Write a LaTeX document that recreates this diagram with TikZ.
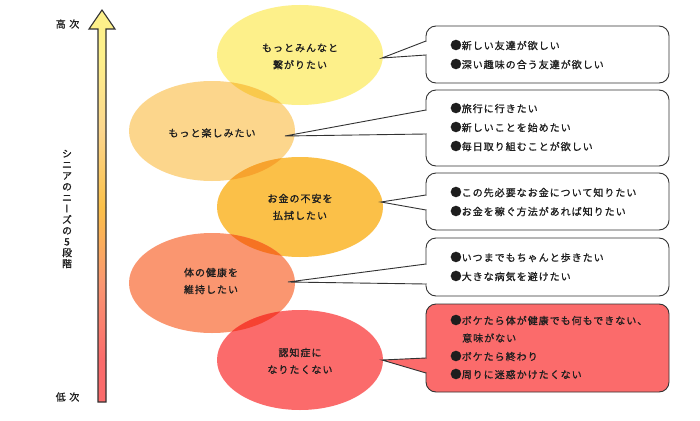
\documentclass[tikz,border=0pt]{standalone}
\usepackage{fontspec}
\newfontfamily\jp{Noto Sans CJK JP}[LetterSpace=10,FakeBold=1.1]
\newfontfamily\jpv{Noto Sans CJK JP}[RawFeature=+vert,FakeBold=1.1]
\definecolor{cA}{RGB}{253,240,138}
\definecolor{cB}{RGB}{252,214,140}
\definecolor{cC}{RGB}{251,192,72}
\definecolor{cD}{RGB}{250,150,112}
\definecolor{cE}{RGB}{251,107,107}
\definecolor{oAB}{RGB}{249,201,76}
\definecolor{oBC}{RGB}{247,163,46}
\definecolor{oCD}{RGB}{246,115,34}
\definecolor{oDE}{RGB}{246,66,50}
\definecolor{tcol}{RGB}{30,30,30}
\definecolor{lcol}{RGB}{50,50,50}
\newcommand\bul{{\fontsize{11.5}{12}\selectfont ●}}
\tikzset{
  bubble/.style={draw=lcol, line width=0.9pt, rounded corners=10pt, fill=white, minimum width=243pt, inner sep=0pt},
  txt/.style={font=\jp\fontsize{10}{12}\selectfont, text=tcol, inner sep=0pt, anchor=west},
  elab/.style={font=\jp\fontsize{10}{17}\selectfont, text=tcol, inner sep=0pt, align=center},
  ptr/.style={draw=lcol, line width=0.9pt, line join=miter},
}
\begin{document}
\begin{tikzpicture}[x=1pt,y=-1pt]
\useasboundingbox (0,0) rectangle (700,420);
\fill[white] (0,0) rectangle (700,420);

% ---- arrow ----
\begin{scope}
  \clip (102,10) -- (115,29) -- (106,29) -- (106,402) -- (98,402) -- (98,29) -- (89,29) -- cycle;
  \fill[cA] (80,0) rectangle (120,55.5);
  \shade[top color=cA, bottom color=cB] (80,55) rectangle (120,131.5);
  \shade[top color=cB, bottom color=cC] (80,131) rectangle (120,207.5);
  \shade[top color=cC, bottom color=cD] (80,207) rectangle (120,283.5);
  \shade[top color=cD, bottom color=cE] (80,283) rectangle (120,360.5);
  \fill[cE] (80,360) rectangle (120,410);
\end{scope}
\draw[lcol, line width=1.1pt, line join=miter] (102,10) -- (115,29) -- (106,29) -- (106,402) -- (98,402) -- (98,29) -- (89,29) -- cycle;

\node[font=\jp\fontsize{10}{12}\selectfont, text=tcol, inner sep=0pt] (hi) at (67.5,24) {高\hspace{3.5pt}次};
\node[font=\jp\fontsize{10}{12}\selectfont, text=tcol, inner sep=0pt] (lo) at (67.5,397) {低\hspace{3.5pt}次};
\node[font=\jpv\fontsize{10}{11}\selectfont, text=tcol, inner sep=0pt, align=center] (vt) at (67,209)
  {シ\\ニ\\ア\\の\\ニ\\ー\\ズ\\の\\5\\段\\階};

% ---- ellipses ----
\coordinate (eA) at (300,55);
\coordinate (eB) at (212,131);
\coordinate (eC) at (300,207);
\coordinate (eD) at (212,283);
\coordinate (eE) at (300,360);
\fill[cA] (eA) ellipse [x radius=83pt, y radius=50pt];
\fill[cB] (eB) ellipse [x radius=83pt, y radius=50pt];
\fill[cC] (eC) ellipse [x radius=83pt, y radius=50pt];
\fill[cD] (eD) ellipse [x radius=83pt, y radius=50pt];
\fill[cE] (eE) ellipse [x radius=83pt, y radius=50pt];
\begin{scope}
  \clip (eA) ellipse [x radius=83pt, y radius=50pt];
  \fill[oAB] (eB) ellipse [x radius=83pt, y radius=50pt];
\end{scope}
\begin{scope}
  \clip (eB) ellipse [x radius=83pt, y radius=50pt];
  \fill[oBC] (eC) ellipse [x radius=83pt, y radius=50pt];
\end{scope}
\begin{scope}
  \clip (eC) ellipse [x radius=83pt, y radius=50pt];
  \fill[oCD] (eD) ellipse [x radius=83pt, y radius=50pt];
\end{scope}
\begin{scope}
  \clip (eD) ellipse [x radius=83pt, y radius=50pt];
  \fill[oDE] (eE) ellipse [x radius=83pt, y radius=50pt];
\end{scope}

\node[elab] (nA) at (300,56.5) {もっとみんなと\\繋がりたい};
\node[elab] (nB) at (212,133) {もっと楽しみたい};
\node[elab] (nC) at (300,207) {お金の不安を\\払拭したい};
\node[elab] (nD) at (211,281) {体の健康を\\維持したい};
\node[elab] (nE) at (300,361) {認知症に\\なりたくない};

% ---- callouts ----
\node[bubble, minimum height=57pt] (b1) at (547.5,54.5) {};
\node[bubble, minimum height=76pt] (b2) at (547.5,128) {};
\node[bubble, minimum height=57pt] (b3) at (547.5,201.5) {};
\node[bubble, minimum height=58pt] (b4) at (547.5,267) {};
\node[bubble, minimum height=88pt, fill=cE] (b5) at (547.5,348) {};

\coordinate (t1) at (382,58);  \coordinate (p1a) at (426,41);  \coordinate (p1b) at (426,55);
\coordinate (t2) at (285,136); \coordinate (p2a) at (426,110); \coordinate (p2b) at (426,134);
\coordinate (t3) at (381,202); \coordinate (p3a) at (426,195); \coordinate (p3b) at (426,210);
\coordinate (t4) at (288,282); \coordinate (p4a) at (426,264); \coordinate (p4b) at (426,284);
\coordinate (t5) at (382,360); \coordinate (p5a) at (426,358); \coordinate (p5b) at (426,373);

\fill[white] (p1a) -- (t1) -- (p1b) -- cycle; \fill[white] (425,41.6) rectangle (427,54.4);
\fill[white] (p2a) -- (t2) -- (p2b) -- cycle; \fill[white] (425,110.6) rectangle (427,133.4);
\fill[white] (p3a) -- (t3) -- (p3b) -- cycle; \fill[white] (425,195.6) rectangle (427,209.4);
\fill[white] (p4a) -- (t4) -- (p4b) -- cycle; \fill[white] (425,264.6) rectangle (427,283.4);
\fill[cE] (p5a) -- (t5) -- (p5b) -- cycle; \fill[cE] (425,358.6) rectangle (427,372.4);
\draw[ptr] (p1a) -- (t1) -- (p1b);
\draw[ptr] (p2a) -- (t2) -- (p2b);
\draw[ptr] (p3a) -- (t3) -- (p3b);
\draw[ptr] (p4a) -- (t4) -- (p4b);
\draw[ptr] (p5a) -- (t5) -- (p5b);

% ---- callout texts ----
\node[txt] (l11) at (450,45) {\bul 新しい友達が欲しい};
\node[txt] (l12) at (450,64) {\bul 深い趣味の合う友達が欲しい};
\node[txt] (l21) at (450,108) {\bul 旅行に行きたい};
\node[txt] (l22) at (450,127) {\bul 新しいことを始めたい};
\node[txt] (l23) at (450,146) {\bul 毎日取り組むことが欲しい};
\node[txt] (l31) at (450,192) {\bul この先必要なお金について知りたい};
\node[txt] (l32) at (450,211) {\bul お金を稼ぐ方法があれば知りたい};
\node[txt] (l41) at (450,257) {\bul いつまでもちゃんと歩きたい};
\node[txt] (l42) at (450,276) {\bul 大きな病気を避けたい};
\node[txt] (l51) at (450,320) {\bul ボケたら体が健康でも何もできない、};
\node[txt] (l52) at (462,338) {意味がない};
\node[txt] (l53) at (450,356) {\bul ボケたら終わり};
\node[txt] (l54) at (450,374) {\bul 周りに迷惑かけたくない};
\end{tikzpicture}
\end{document}
